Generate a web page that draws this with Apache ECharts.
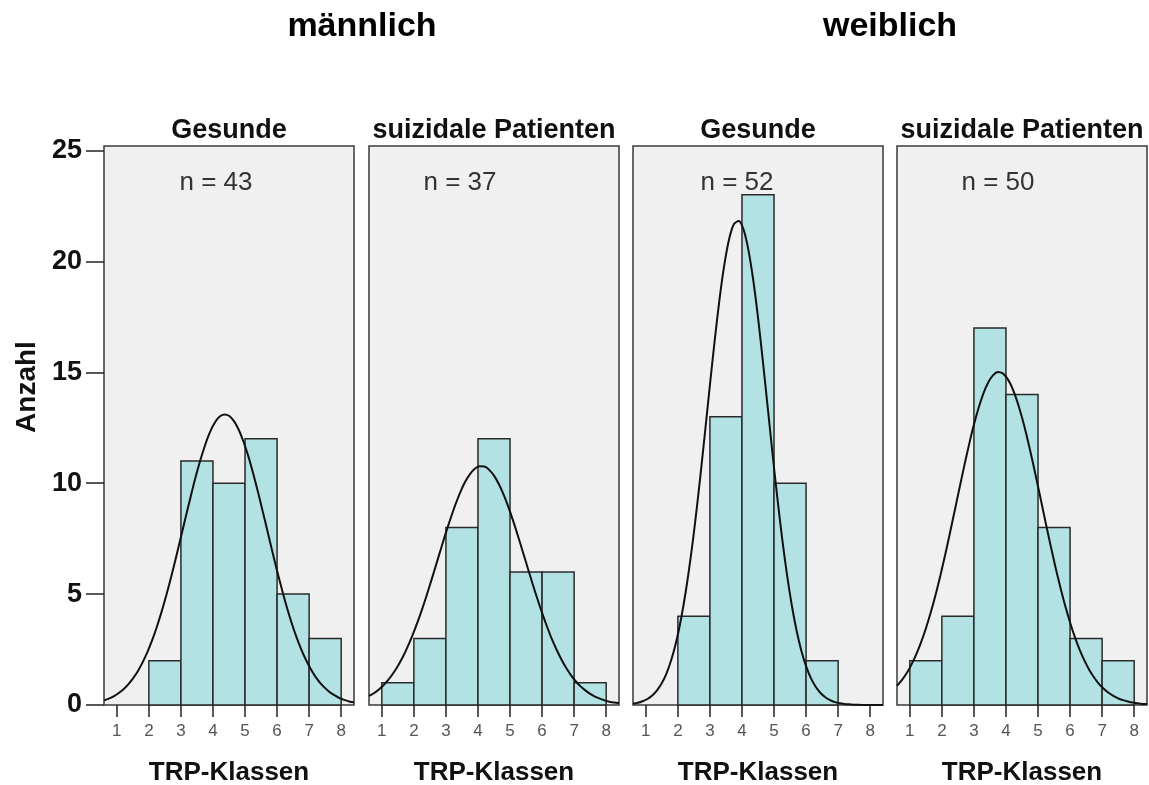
<!DOCTYPE html>
<html>
<head>
<meta charset="utf-8">
<script src="https://cdn.jsdelivr.net/npm/echarts@6/dist/echarts.min.js"></script>
<style>
  html, body { margin: 0; padding: 0; background: #ffffff; }
  #chart { width: 1149px; height: 785px; }
</style>
</head>
<body>
<div id="chart"></div>
<script>
// Axis ticks and labels
const classTicks = [1, 2, 3, 4, 5, 6, 7, 8];
const countTicks = [0, 5, 10, 15, 20, 25];
const groupTitles = ['männlich', 'weiblich'];
const panelTitles = ['Gesunde', 'suizidale Patienten', 'Gesunde', 'suizidale Patienten'];
const sampleSizes = [43, 37, 52, 50];
const xAxisTitle = 'TRP-Klassen';
const yAxisTitle = 'Anzahl';

// Histogram classes (lower bound of each class) and counts
const classesMaleHealthy = [2, 3, 4, 5, 6, 7];
const countsMaleHealthy = [2, 11, 10, 12, 5, 3];
const classesMaleSuicidal = [1, 2, 3, 4, 5, 6, 7];
const countsMaleSuicidal = [1, 3, 8, 12, 6, 6, 1];
const classesFemaleHealthy = [2, 3, 4, 5, 6];
const countsFemaleHealthy = [4, 13, 23, 10, 2];
const classesFemaleSuicidal = [1, 2, 3, 4, 5, 6, 7];
const countsFemaleSuicidal = [2, 4, 17, 14, 8, 3, 2];

// Fitted normal curves, sampled along the class axis
const curveX = [0.6, 0.75, 0.9, 1.05, 1.2, 1.35, 1.5, 1.65, 1.8, 1.95, 2.1, 2.25, 2.4, 2.55, 2.7, 2.85,
                3.0, 3.15, 3.3, 3.45, 3.6, 3.75, 3.9, 4.05, 4.2, 4.35, 4.5, 4.65, 4.8, 4.95, 5.1, 5.25,
                5.4, 5.55, 5.7, 5.85, 6.0, 6.15, 6.3, 6.45, 6.6, 6.75, 6.9, 7.05, 7.2, 7.35, 7.5, 7.65,
                7.8, 7.95, 8.1, 8.25, 8.4];
const curveMaleHealthy = [0.21, 0.29, 0.39, 0.53, 0.70, 0.92, 1.19, 1.51, 1.91, 2.37, 2.91, 3.53, 4.22, 4.98, 5.80, 6.67,
                          7.57, 8.48, 9.37, 10.23, 11.01, 11.70, 12.28, 12.71, 12.99, 13.10, 13.04, 12.81, 12.42, 11.88, 11.23, 10.46,
                          9.63, 8.74, 7.84, 6.93, 6.05, 5.22, 4.43, 3.72, 3.08, 2.52, 2.04, 1.62, 1.27, 0.99, 0.76, 0.57,
                          0.43, 0.31, 0.23, 0.16, 0.12];
const curveMaleSuicidal = [0.41, 0.53, 0.69, 0.89, 1.13, 1.42, 1.76, 2.15, 2.61, 3.12, 3.68, 4.29, 4.95, 5.64, 6.35, 7.07,
                           7.77, 8.43, 9.05, 9.60, 10.06, 10.41, 10.65, 10.76, 10.75, 10.60, 10.34, 9.96, 9.48, 8.92, 8.29, 7.61,
                           6.90, 6.19, 5.48, 4.80, 4.15, 3.55, 2.99, 2.50, 2.06, 1.68, 1.35, 1.07, 0.84, 0.66, 0.50, 0.38,
                           0.29, 0.21, 0.15, 0.11, 0.08];
const curveFemaleHealthy = [0.06, 0.10, 0.17, 0.27, 0.43, 0.66, 0.99, 1.44, 2.06, 2.86, 3.89, 5.15, 6.65, 8.38, 10.30, 12.34,
                            14.43, 16.45, 18.30, 19.85, 21.01, 21.68, 21.82, 21.43, 20.52, 19.17, 17.47, 15.52, 13.46, 11.38, 9.38, 7.55,
                            5.92, 4.53, 3.38, 2.46, 1.75, 1.21, 0.82, 0.54, 0.35, 0.22, 0.13, 0.08, 0.05, 0.03, 0.01, 0.01,
                            0.00, 0.00, 0.00, 0.00, 0.00];
const curveFemaleSuicidal = [0.86, 1.12, 1.43, 1.82, 2.28, 2.82, 3.45, 4.16, 4.95, 5.82, 6.75, 7.74, 8.76, 9.78, 10.79, 11.75,
                             12.64, 13.41, 14.06, 14.55, 14.87, 15.01, 14.95, 14.70, 14.28, 13.69, 12.96, 12.12, 11.18, 10.19, 9.17, 8.14,
                             7.14, 6.18, 5.29, 4.46, 3.72, 3.06, 2.49, 2.00, 1.58, 1.24, 0.95, 0.73, 0.55, 0.41, 0.30, 0.22,
                             0.16, 0.11, 0.08, 0.05, 0.04];

const classWidth = 1;

const panels = [
  { classes: classesMaleHealthy, counts: countsMaleHealthy, curve: curveMaleHealthy },
  { classes: classesMaleSuicidal, counts: countsMaleSuicidal, curve: curveMaleSuicidal },
  { classes: classesFemaleHealthy, counts: countsFemaleHealthy, curve: curveFemaleHealthy },
  { classes: classesFemaleSuicidal, counts: countsFemaleSuicidal, curve: curveFemaleSuicidal }
];

// Layout
const FONT = 'Liberation Sans, Arial, sans-serif';
const gridLeft = [104, 369, 633, 897];
const gridWidth = 250;
const gridTop = 146;
const gridHeight = 559;
const nLabelOffset = [112, 91, 104, 101];

const grids = [], xAxes = [], yAxes = [], series = [], graphics = [];

panels.forEach((p, i) => {
  grids.push({
    left: gridLeft[i], top: gridTop, width: gridWidth, height: gridHeight,
    show: true, backgroundColor: '#f0f0f0', borderColor: '#3a3a3a', borderWidth: 1.5,
    containLabel: false
  });
  xAxes.push({
    type: 'value', gridIndex: i, min: 0.6, max: 8.4,
    axisLine: { show: false },
    splitLine: { show: false },
    axisTick: { show: true, customValues: classTicks, length: 12, lineStyle: { color: '#222', width: 1.5 } },
    axisLabel: { customValues: classTicks, color: '#555', fontSize: 17, fontFamily: FONT, margin: 18 }
  });
  yAxes.push({
    type: 'value', gridIndex: i, min: 0, max: 25.2,
    axisLine: { show: false },
    splitLine: { show: false },
    axisTick: { show: i === 0, customValues: countTicks, length: 18, lineStyle: { color: '#222', width: 1.5 } },
    axisLabel: { show: i === 0, customValues: countTicks, color: '#111', fontSize: 27, fontWeight: 'bold',
                 fontFamily: FONT, margin: 22 }
  });
  series.push({
    type: 'custom', xAxisIndex: i, yAxisIndex: i,
    data: p.classes.map((c, k) => [c, p.counts[k]]),
    encode: { x: 0, y: 1 },
    renderItem: (params, api) => {
      const lo = api.value(0), h = api.value(1);
      const a = api.coord([lo, h]);
      const b = api.coord([lo + classWidth, 0]);
      return {
        type: 'rect',
        shape: { x: a[0], y: a[1], width: b[0] - a[0], height: b[1] - a[1] },
        style: { fill: '#b2e2e4', stroke: '#2a2a2a', lineWidth: 1.5 }
      };
    },
    z: 2
  });
  series.push({
    type: 'line', xAxisIndex: i, yAxisIndex: i,
    data: curveX.map((x, k) => [x, p.curve[k]]),
    smooth: 0.3, showSymbol: false, symbol: 'none',
    lineStyle: { color: '#111', width: 2 },
    clip: true, z: 3
  });
  // panel title
  graphics.push({
    type: 'text', x: gridLeft[i] + gridWidth / 2, y: 131,
    style: { text: panelTitles[i], font: 'bold 27px ' + FONT, fill: '#111', textAlign: 'center', textVerticalAlign: 'middle' }
  });
  // sample size
  graphics.push({
    type: 'text', x: gridLeft[i] + nLabelOffset[i], y: 183,
    style: { text: 'n = ' + sampleSizes[i], font: '26px ' + FONT, fill: '#333', textAlign: 'center', textVerticalAlign: 'middle' }
  });
  // x axis title
  graphics.push({
    type: 'text', x: gridLeft[i] + gridWidth / 2, y: 773,
    style: { text: xAxisTitle, font: 'bold 26px ' + FONT, fill: '#111', textAlign: 'center', textVerticalAlign: 'middle' }
  });
});

// group titles
graphics.push({
  type: 'text', x: 362, y: 27,
  style: { text: groupTitles[0], font: 'bold 34px ' + FONT, fill: '#000', textAlign: 'center', textVerticalAlign: 'middle' }
});
graphics.push({
  type: 'text', x: 890, y: 27,
  style: { text: groupTitles[1], font: 'bold 34px ' + FONT, fill: '#000', textAlign: 'center', textVerticalAlign: 'middle' }
});
// y axis title
graphics.push({
  type: 'text', x: 27, y: 387, rotation: Math.PI / 2,
  style: { text: yAxisTitle, font: 'bold 28px ' + FONT, fill: '#111', textAlign: 'center', textVerticalAlign: 'middle' }
});

const chart = echarts.init(document.getElementById('chart'), null, { renderer: 'canvas' });
chart.setOption({
  animation: false,
  backgroundColor: '#ffffff',
  grid: grids,
  xAxis: xAxes,
  yAxis: yAxes,
  series: series,
  graphic: graphics
});
</script>
</body>
</html>
